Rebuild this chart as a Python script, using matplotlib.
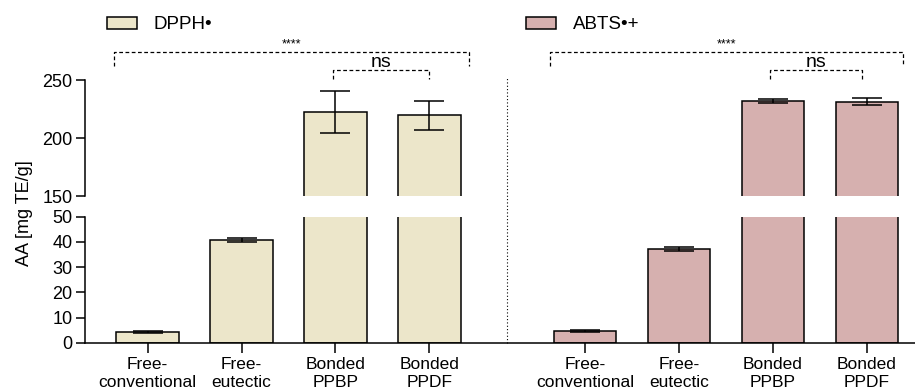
import numpy as np
import matplotlib
matplotlib.use('Agg')
import matplotlib.pyplot as plt
from matplotlib.patches import Patch
from matplotlib.transforms import blended_transform_factory

plt.rcParams['font.family'] = ['Liberation Sans', 'DejaVu Sans']

categories = ['Free-\nconventional', 'Free-\neutectic', 'Bonded\nPPBP', 'Bonded\nPPDF']
dpph_mean = [4.2, 40.9, 222.5, 219.5]
dpph_sd = [0.3, 0.8, 18.0, 12.5]
abts_mean = [4.8, 37.3, 232.0, 231.5]
abts_sd = [0.4, 0.8, 1.5, 2.8]

dpph_color = '#ECE6CA'
abts_color = '#D6B0AF'

x1 = np.arange(4)
x2 = x1 + 4.66
width = 0.667

fig = plt.figure(figsize=(9.15, 3.89), dpi=100)
ax_top = fig.add_axes([0.093, 0.496, 0.92, 0.298])
ax_bot = fig.add_axes([0.093, 0.119, 0.92, 0.324])

for ax in (ax_top, ax_bot):
    for xs, m, s, c in ((x1, dpph_mean, dpph_sd, dpph_color), (x2, abts_mean, abts_sd, abts_color)):
        ax.bar(xs, m, width=width, color=c, edgecolor='black', linewidth=1.1, zorder=2)
        ax.errorbar(xs, m, yerr=s, fmt='none', ecolor='black', elinewidth=1.1,
                    capsize=10.5, capthick=1.1, zorder=3)
    ax.set_xlim(-0.667, 8.3)
    ax.spines['top'].set_visible(False)
    ax.spines['right'].set_visible(False)
    ax.spines['left'].set_linewidth(1.1)
    ax.spines['bottom'].set_linewidth(1.1)
    ax.tick_params(axis='y', labelsize=13, length=6.5, width=1.1, pad=2.5)

ax_top.set_ylim(150, 250)
ax_top.set_yticks([150, 200, 250])
ax_top.spines['bottom'].set_visible(False)
ax_top.set_xticks([])

ax_bot.set_ylim(0, 50)
ax_bot.set_yticks([0, 10, 20, 30, 40, 50])
ax_bot.set_xticks(np.concatenate([x1, x2]))
ax_bot.set_xticklabels(categories * 2, fontsize=12.5, linespacing=1.2)
ax_bot.tick_params(axis='x', length=7, width=1.1, pad=3.5)

# dotted separator between the two assays
sep = blended_transform_factory(ax_bot.transData, fig.transFigure)
ax_bot.plot([3.83, 3.83], [0.119, 0.80], transform=sep, color='black',
            linestyle=(0, (1, 2)), linewidth=0.8, clip_on=False, zorder=1)

fig.text(0.027, 0.452, 'AA [mg TE/g]', rotation=90, ha='center', va='center', fontsize=13)

# significance brackets
def bracket(ax, xa, xb, y, drop, label, fs, dy):
    ax.plot([xa, xa, xb, xb], [y - drop, y, y, y - drop], color='black', linestyle=(0, (3, 2)),
            linewidth=0.9, clip_on=False)
    ax.text((xa + xb) / 2, y + dy, label, ha='center', va='bottom', fontsize=fs)

bracket(ax_top, -0.36, 3.42, 274, 12, '****', 9, 2)
bracket(ax_top, 1.97, 3.0, 258.5, 7.5, 'ns', 14, -0.5)
bracket(ax_top, 4.28, 8.05, 274, 12, '****', 9, 2)
bracket(ax_top, 6.63, 7.61, 258.5, 7.5, 'ns', 14, -0.5)

legend_kw = dict(loc='center left', frameon=False, fontsize=13.5, handlelength=1.6,
                 handleheight=0.6, handletextpad=0.9, borderpad=0, borderaxespad=0)
h1 = [Patch(facecolor=dpph_color, edgecolor='black', linewidth=1.1)]
h2 = [Patch(facecolor=abts_color, edgecolor='black', linewidth=1.1)]
fig.legend(h1, ['DPPH•'], bbox_to_anchor=(0.117, 0.936), **legend_kw)
fig.legend(h2, ['ABTS•+'], bbox_to_anchor=(0.5745, 0.936), **legend_kw)

fig.savefig('out.png', dpi=100)
